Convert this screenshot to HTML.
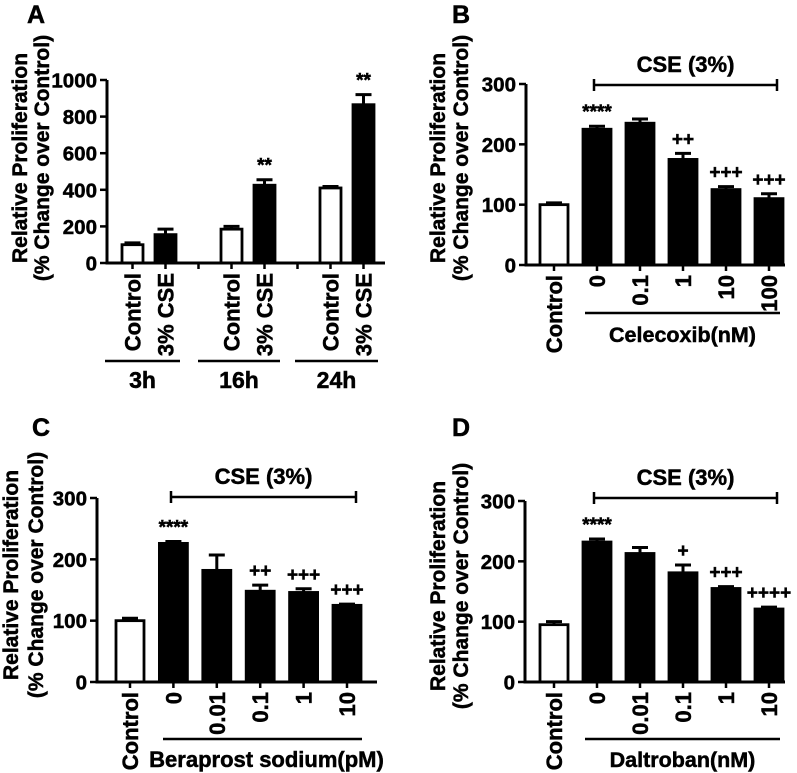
<!DOCTYPE html>
<html><head><meta charset="utf-8"><style>
html,body{margin:0;padding:0;background:#fff;}
svg{display:block;}
svg text{font-family:"Liberation Sans",Arial,sans-serif;font-weight:700;}
</style></head><body>
<svg id="fig" width="797" height="773" viewBox="0 0 797 773" xmlns="http://www.w3.org/2000/svg"></svg>
<script>
// Panel A data
const aCategories = ["Control","3% CSE","Control","3% CSE","Control","3% CSE"];
const aGroups = ["3h","16h","24h"];
const aValues = [100,155,185,425,410,865];
const aErrors = [10,30,15,30,8,55];
const aAnnot = ["","","","**","","**"];
const aTicks = [0,200,400,600,800,1000];
// Panel B data
const bCategories = ["Control","0","0.1","1","10","100"];
const bValues = [100,225,235,175,125,110];
const bErrors = [3,5,7,10,5,8];
const bAnnot = ["","****","","++","+++","+++"];
// Panel C data
const cCategories = ["Control","0","0.01","0.1","1","10"];
const cValues = [100,226,182,148,146,125];
const cErrors = [4,3,25,10,6,2];
const cAnnot = ["","****","","++","+++","+++"];
// Panel D data
const dCategories = ["Control","0","0.01","0.1","1","10"];
const dValues = [95,232,213,181,155,121];
const dErrors = [5,5,10,13,3,3];
const dAnnot = ["","****","","+","+++","++++"];
const tick300 = [0,100,200,300];

const NS = "http://www.w3.org/2000/svg";
const svg = document.getElementById("fig");
function mk(tag, attrs, parent, text){
  const e = document.createElementNS(NS, tag);
  for (const k in attrs) e.setAttribute(k, attrs[k]);
  if (tag === "text") {
    e.setAttribute("font-weight", "bold");
    e.setAttribute("font-family", "Liberation Sans, Arial, sans-serif");
    e.setAttribute("stroke", "#000");
    e.setAttribute("stroke-width", "0.5");
  }
  if (text !== undefined) e.textContent = text;
  (parent || svg).appendChild(e);
  return e;
}

function panel(cfg){
  const g = mk("g", {});
  
  
  const y = v => cfg.y0 - (v / cfg.ymax) * (cfg.y0 - cfg.ytop);
  const x = i => cfg.x0c + cfg.step * cfg.slots[i];
  const L = mk("text", {x: cfg.lx, y: cfg.ly, "font-size": 25}, g, cfg.letter);
  
  
  const t1 = mk("text", {transform: `translate(${cfg.tx1},${cfg.tcy}) rotate(-90)`, "text-anchor":"middle", "font-size":21}, g, "Relative Proliferation");
  
  
  const t2 = mk("text", {transform: `translate(${cfg.tx2},${cfg.tcy}) rotate(-90)`, "text-anchor":"middle", "font-size":21}, g, "(% Change over Control)");
  
  
  cfg.values.forEach((v, i) => {
    const cx = x(i), w = cfg.bw;
    const r = mk("rect", {x: cx - w/2, y: y(v), width: w, height: cfg.y0 - y(v), fill: cfg.fills[i], stroke:"#000", "stroke-width":2.8}, g);
    
    
    const e = mk("path", {d: `M${cx},${y(v)}V${y(v+cfg.errors[i])}M${cx-8},${y(v+cfg.errors[i])}H${cx+8}`, stroke:"#000", "stroke-width":3, fill:"none"}, g);
    
    
    if (cfg.annot[i]) {
      const a = mk("text", {x: cx, y: y(v+cfg.errors[i]) - 8, "text-anchor":"middle", "font-size":19}, g, cfg.annot[i]);
      
      
    }
    const tk = mk("line", {x1: cx, x2: cx, y1: cfg.y0, y2: cfg.y0 + 6, stroke:"#000", "stroke-width":2.5}, g);
    
    
    const lb = mk("text", {transform: `translate(${cx+8},${cfg.y0+10}) rotate(-90)`, "text-anchor":"end", "font-size":22}, g, cfg.cats[i]);
    
    
  });
  (cfg.extraTicks || []).forEach(s => {
    const tk = mk("line", {x1: cfg.x0c + cfg.step*s, x2: cfg.x0c + cfg.step*s, y1: cfg.y0, y2: cfg.y0 + 6, stroke:"#000", "stroke-width":2.5}, g);
    
    
  });
  const ax = mk("path", {d: `M${cfg.xa},${cfg.ytop}V${cfg.y0}H${cfg.xe}`, stroke:"#000", "stroke-width":3, fill:"none"}, g);
  
  
  cfg.ticks.forEach(t => {
    const tk = mk("line", {x1: cfg.xa - 7, x2: cfg.xa, y1: y(t), y2: y(t), stroke:"#000", "stroke-width":2.5}, g);
    
    
    const tl = mk("text", {x: cfg.xa - 10, y: y(t) + 7.5, "text-anchor":"end", "font-size":20.5}, g, t);
    
    
  });
  if (cfg.cse) {
    const b = mk("path", {d: `M${cfg.cse[0]},${cfg.cse[2]-6}V${cfg.cse[2]+6}M${cfg.cse[0]},${cfg.cse[2]}H${cfg.cse[1]}M${cfg.cse[1]},${cfg.cse[2]-6}V${cfg.cse[2]+6}`, stroke:"#000", "stroke-width":2.5, fill:"none"}, g);
    
    
    const ct = mk("text", {x: (cfg.cse[0]+cfg.cse[1])/2, y: cfg.cse[2]-13, "text-anchor":"middle", "font-size":22}, g, "CSE (3%)");
    
    
  }
  (cfg.underlines || []).forEach(u => {
    const l = mk("line", {x1: u[0], x2: u[1], y1: u[2], y2: u[2], stroke:"#000", "stroke-width":2.5}, g);
    
    
    const t = mk("text", {x: (u[0]+u[1])/2 + (u[5]||0), y: u[4], "text-anchor":"middle", "font-size": u[6] || 23}, g, u[3]);
    
    
  });
}

const fillsA = ["#fff","#000","#fff","#000","#fff","#000"];
const fills6 = ["#fff","#000","#000","#000","#000","#000"];

panel({name:"panel-a", letter:"A", lx:27, ly:23, tx1:27, tx2:49, tcy:158,
  cats:aCategories, values:aValues, errors:aErrors, annot:aAnnot, fills:fillsA, ticks:aTicks,
  ymax:1000, y0:263, ytop:80, xa:107, xe:385, x0c:132.5, step:33, slots:[0,1,3,4,6,7], bw:21,
  extraTicks:[2,5],
  underlines:[[105,180,361,aGroups[0],388,0,23],[198,280,361,aGroups[1],388,0,23],[295,378,361,aGroups[2],388,0,23]]});

panel({name:"panel-b", letter:"B", lx:452, ly:23, tx1:445, tx2:468, tcy:158,
  cats:bCategories, values:bValues, errors:bErrors, annot:bAnnot, fills:fills6, ticks:tick300,
  ymax:300, y0:265, ytop:84, xa:526, xe:785, x0c:554, step:43, slots:[0,1,2,3,4,5], bw:28,
  cse:[594,777,85],
  underlines:[[585,780,313,"Celecoxib(nM)",342,0,21.5]]});

panel({name:"panel-c", letter:"C", lx:32, ly:436, tx1:18, tx2:43, tcy:575,
  cats:cCategories, values:cValues, errors:cErrors, annot:cAnnot, fills:fills6, ticks:tick300,
  ymax:300, y0:682, ytop:498, xa:97, xe:377, x0c:130, step:43.4, slots:[0,1,2,3,4,5], bw:28,
  cse:[171,356,497],
  underlines:[[163,362,739,"Beraprost sodium(pM)",767,4,22]]});

panel({name:"panel-d", letter:"D", lx:452, ly:436, tx1:445, tx2:468, tcy:586,
  cats:dCategories, values:dValues, errors:dErrors, annot:dAnnot, fills:fills6, ticks:tick300,
  ymax:300, y0:682, ytop:501, xa:525, xe:785, x0c:554, step:43, slots:[0,1,2,3,4,5], bw:28,
  cse:[594,777,498],
  underlines:[[585,780,739,"Daltroban(nM)",767,0,21.5]]});
</script>
</body></html>
